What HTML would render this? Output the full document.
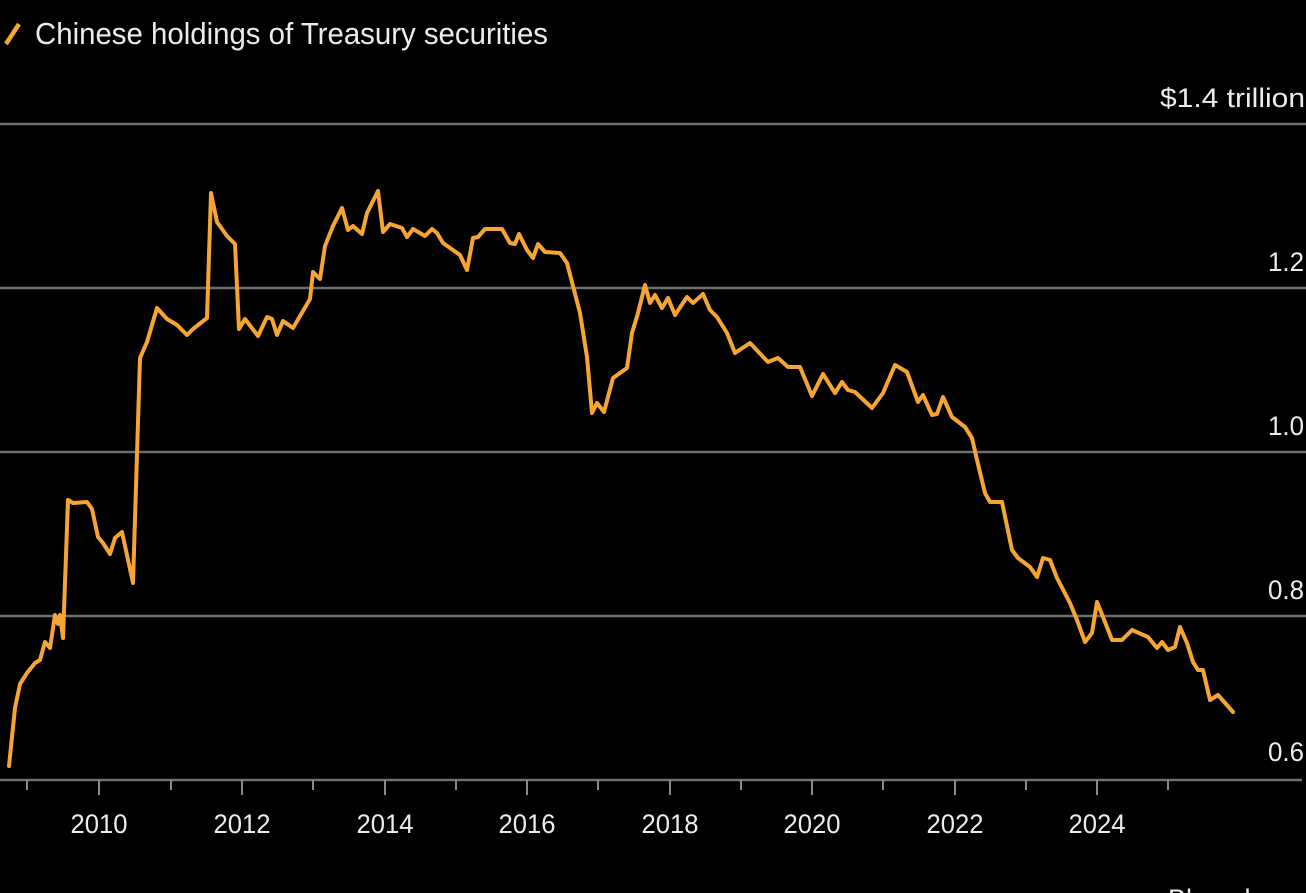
<!DOCTYPE html>
<html><head><meta charset="utf-8"><style>
html,body{margin:0;padding:0;background:#000;width:1306px;height:893px;overflow:hidden}
text{font-family:"Liberation Sans",sans-serif;fill:#ececec}
</style></head><body>
<svg width="1306" height="893" viewBox="0 0 1306 893" xmlns="http://www.w3.org/2000/svg">
<rect width="1306" height="893" fill="#000"/>
<line x1="6" y1="44" x2="19" y2="24" stroke="#f7a532" stroke-width="4.5"/>
<text x="35" y="44" font-size="31" textLength="513" lengthAdjust="spacingAndGlyphs">Chinese holdings of Treasury securities</text>
<g stroke="#6e6e6e" stroke-width="2.5">
<line x1="0" y1="124" x2="1306" y2="124"/>
<line x1="0" y1="288" x2="1306" y2="288"/>
<line x1="0" y1="452" x2="1306" y2="452"/>
<line x1="0" y1="616" x2="1306" y2="616"/>
<line x1="0" y1="780" x2="1302" y2="780"/>
</g>
<g font-size="27" text-anchor="end">
<text x="1305" y="107" textLength="145" lengthAdjust="spacingAndGlyphs">$1.4 trillion</text>
<text x="1304" y="271" textLength="36" lengthAdjust="spacingAndGlyphs">1.2</text>
<text x="1304" y="435" textLength="36" lengthAdjust="spacingAndGlyphs">1.0</text>
<text x="1304" y="599" textLength="36" lengthAdjust="spacingAndGlyphs">0.8</text>
<text x="1304" y="761" textLength="36" lengthAdjust="spacingAndGlyphs">0.6</text>
</g>
<g stroke="#8a8a8a" stroke-width="2">
<line x1="27" y1="780" x2="27" y2="790"/><line x1="99" y1="780" x2="99" y2="795"/>
<line x1="171" y1="780" x2="171" y2="790"/><line x1="242" y1="780" x2="242" y2="795"/>
<line x1="313" y1="780" x2="313" y2="790"/><line x1="385" y1="780" x2="385" y2="795"/>
<line x1="456" y1="780" x2="456" y2="790"/><line x1="527" y1="780" x2="527" y2="795"/>
<line x1="598" y1="780" x2="598" y2="790"/><line x1="670" y1="780" x2="670" y2="795"/>
<line x1="741" y1="780" x2="741" y2="790"/><line x1="812" y1="780" x2="812" y2="795"/>
<line x1="883" y1="780" x2="883" y2="790"/><line x1="955" y1="780" x2="955" y2="795"/>
<line x1="1026" y1="780" x2="1026" y2="790"/><line x1="1097" y1="780" x2="1097" y2="795"/>
<line x1="1168" y1="780" x2="1168" y2="790"/>
</g>
<g font-size="27" text-anchor="middle">
<text x="99" y="833" textLength="57" lengthAdjust="spacingAndGlyphs">2010</text>
<text x="242" y="833" textLength="57" lengthAdjust="spacingAndGlyphs">2012</text>
<text x="385" y="833" textLength="57" lengthAdjust="spacingAndGlyphs">2014</text>
<text x="527" y="833" textLength="57" lengthAdjust="spacingAndGlyphs">2016</text>
<text x="670" y="833" textLength="57" lengthAdjust="spacingAndGlyphs">2018</text>
<text x="812" y="833" textLength="57" lengthAdjust="spacingAndGlyphs">2020</text>
<text x="955" y="833" textLength="57" lengthAdjust="spacingAndGlyphs">2022</text>
<text x="1097" y="833" textLength="57" lengthAdjust="spacingAndGlyphs">2024</text>
</g>
<text x="1168" y="908" font-size="27">Bloomberg</text>
<polyline fill="none" stroke="#f7a532" stroke-width="4" stroke-linejoin="round" stroke-linecap="round" points="
9,766 15,708 20,684 27,673 35,663 40,660 45,642 50,648 55,615 58,624 60,615 63,638 68,500 73,503 87,502 92,509 98,537 103,543 110,554 115,538 122,532 133,583 140,358 147,342 157,308 167,319 177,325 187,335 193,329 207,318 211,193 217,222 227,236 235,244 239,329 245,319 258,336 267,317 272,319 277,335 283,321 293,328 303,311 310,299 313,272 320,279 325,246 333,226 342,208 348,230 353,226 362,234 367,213 378,191 383,232 390,224 402,228 407,237 413,229 425,236 432,229 437,233 443,243 460,255 467,270 473,238 478,237 485,229 502,229 510,243 515,244 519,234 527,250 533,258 538,244 545,252 560,253 567,263 580,313 587,357 592,413 597,403 604,412 613,378 620,373 627,368 632,333 638,313 645,285 650,303 655,295 662,308 668,298 675,315 687,297 693,303 703,294 710,310 717,317 727,333 735,353 750,343 768,362 778,358 788,367 800,367 812,396 823,374 835,393 842,382 848,390 855,392 872,408 883,393 895,365 907,372 918,402 923,395 932,415 937,414 943,397 952,417 965,427 972,438 977,460 985,493 990,502 1002,502 1012,550 1018,558 1030,567 1037,577 1043,558 1050,560 1057,578 1070,603 1077,620 1085,642 1092,633 1097,602 1103,617 1112,640 1122,640 1132,630 1148,637 1157,648 1162,642 1168,650 1175,647 1180,627 1187,643 1193,662 1198,670 1203,670 1210,700 1218,695 1233,712"/>
</svg>
</body></html>
